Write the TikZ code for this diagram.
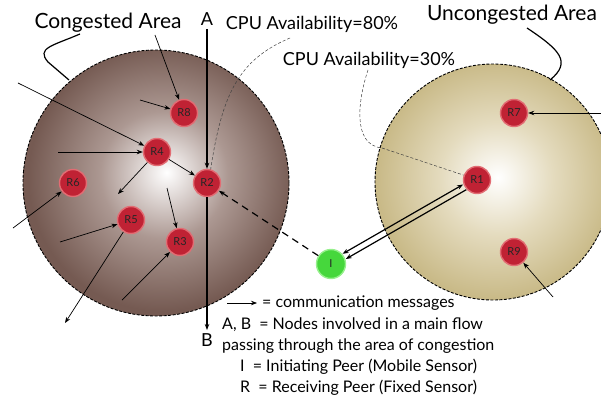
\documentclass[tikz,border=0pt]{standalone}
\usepackage{fontspec}
\setmainfont{Lato}
\usetikzlibrary{arrows.meta}

\definecolor{congedge}{RGB}{117,90,82}
\definecolor{congmid}{RGB}{172,152,146}
\definecolor{freeedge}{RGB}{201,186,136}
\definecolor{freemid}{RGB}{228,219,190}
\definecolor{relayfill}{RGB}{192,34,52}
\definecolor{relayrim}{RGB}{226,108,115}
\definecolor{peerfill}{RGB}{70,215,60}
\definecolor{peerrim}{RGB}{150,240,140}
\pgfdeclareradialshading{congested}{\pgfpoint{2bp}{2bp}}{color(0bp)=(white); color(12bp)=(congmid); color(25bp)=(congedge); color(50bp)=(congedge)}
\pgfdeclareradialshading{uncongested}{\pgfpoint{1bp}{1bp}}{color(0bp)=(white); color(12bp)=(freemid); color(25bp)=(freeedge); color(50bp)=(freeedge)}

\begin{document}
\begin{tikzpicture}[x=1pt, y=-1pt, >={Stealth[length=6pt,width=4.5pt]},
    relay/.style={circle, fill=relayfill, draw=relayrim, line width=1.4pt,
      minimum size=27pt, inner sep=0pt, text=black!85,
      font=\fontsize{11}{11}\selectfont},
    peer/.style={relay, fill=peerfill, draw=peerrim, minimum size=29pt},
    msg/.style={->, line width=0.7pt},
    flow/.style={->, line width=1.3pt},
    note/.style={dash pattern=on 3pt off 2pt, line width=0.5pt, black!75},
    areatext/.style={font=\fontsize{21}{24}\selectfont},
    cpu/.style={font=\fontsize{18}{21}\selectfont},
    legend/.style={font=\fontsize{16}{19}\selectfont, anchor=west, inner sep=0pt}]
  \useasboundingbox (0,0) rectangle (601,398);
  \clip (0,0) rectangle (601,398);
  % Areas
  \shadedraw[shading=congested, dash pattern=on 3pt off 1.5pt, line width=0.9pt]
    (156,183) circle (133pt);
  \shadedraw[shading=uncongested, dash pattern=on 3pt off 1.5pt, line width=0.9pt]
    (493,182) circle (118pt);
  % Area labels
  \node[areatext] (cong) at (108,23) {Congested Area};
  \node[areatext] (uncong) at (512,15) {Uncongested Area};
  \draw[line width=1.2pt] (80,34) .. controls (52,46) and (36,48) .. (48,62) -- (69,80);
  \draw[line width=1.2pt] (527,28) .. controls (560,50) and (572,62) .. (550,80);
  % Relays
  \foreach \n/\x/\y in {R1/477/180, R2/207/183, R3/180/242, R4/157/152, R5/131/220,
                        R6/73/183, R7/514/113, R8/184/113, R9/514/252}
    \node[relay] (\n) at (\x,\y) {\n};
  \node[peer] (I) at (331,264) {I};
  % Main flow A -> B
  \node[cpu] (A) at (207,19) {A};
  \node[cpu] (B) at (207,340) {B};
  \draw[flow] (A) -- (R2);
  \draw[flow] (R2) -- (B);
  % Communication messages
  \foreach \x/\y/\n [count=\k] in {140/100/R8, 155/35/R8, 18/83/R4, 58/152/R4,
                                   167/188/R3, 122/300/R3, 13/228/R6, 60/242/R5,
                                   601/113/R7, 553/297/R9}
    \draw[msg] (\x,\y) coordinate (src\k) -- (\n);
  \coordinate (out1) at (118,194);
  \coordinate (out2) at (65,323);
  \draw[msg] (R4) -- (out1);
  \draw[msg] (R5) -- (out2);
  \draw[msg] (R4) -- (R2);
  % Peer links
  \draw[->, line width=1.2pt, dash pattern=on 7pt off 5pt] (I) -- (R2);
  \draw[<->, line width=1.2pt, transform canvas={xshift=-1.6pt, yshift=2.6pt}] (I) -- (R1);
  \draw[->, line width=1.2pt, transform canvas={xshift=1.6pt, yshift=-2.6pt}] (R1) -- (I);
  % CPU notes
  \node[cpu] (cpu80) at (312,24) {CPU Availability=80\%};
  \node[cpu] (cpu30) at (369,60) {CPU Availability=30\%};
  \draw[note] (290,38) .. controls (238,60) and (222,95) .. (R2.75);
  \draw[note] (368,70) .. controls (358,100) and (352,145) .. (382,148) -- (R1.160);
  % Legend
  \coordinate (keyA) at (227,303);
  \coordinate (keyB) at (257,303);
  \draw[msg] (keyA) -- (keyB);
  \node[legend] (k1) at (262,303) {= communication messages};
  \node[legend] (k2) at (222,325) {A, B\ \ = Nodes involved in a main flow};
  \node[legend] (k3) at (222,346) {passing through the area of congestion};
  \node[legend] (k4) at (240,367) {I\ \ = Initiating Peer (Mobile Sensor)};
  \node[legend] (k5) at (240,388) {R\ \ = Receiving Peer (Fixed Sensor)};
\end{tikzpicture}
\end{document}
